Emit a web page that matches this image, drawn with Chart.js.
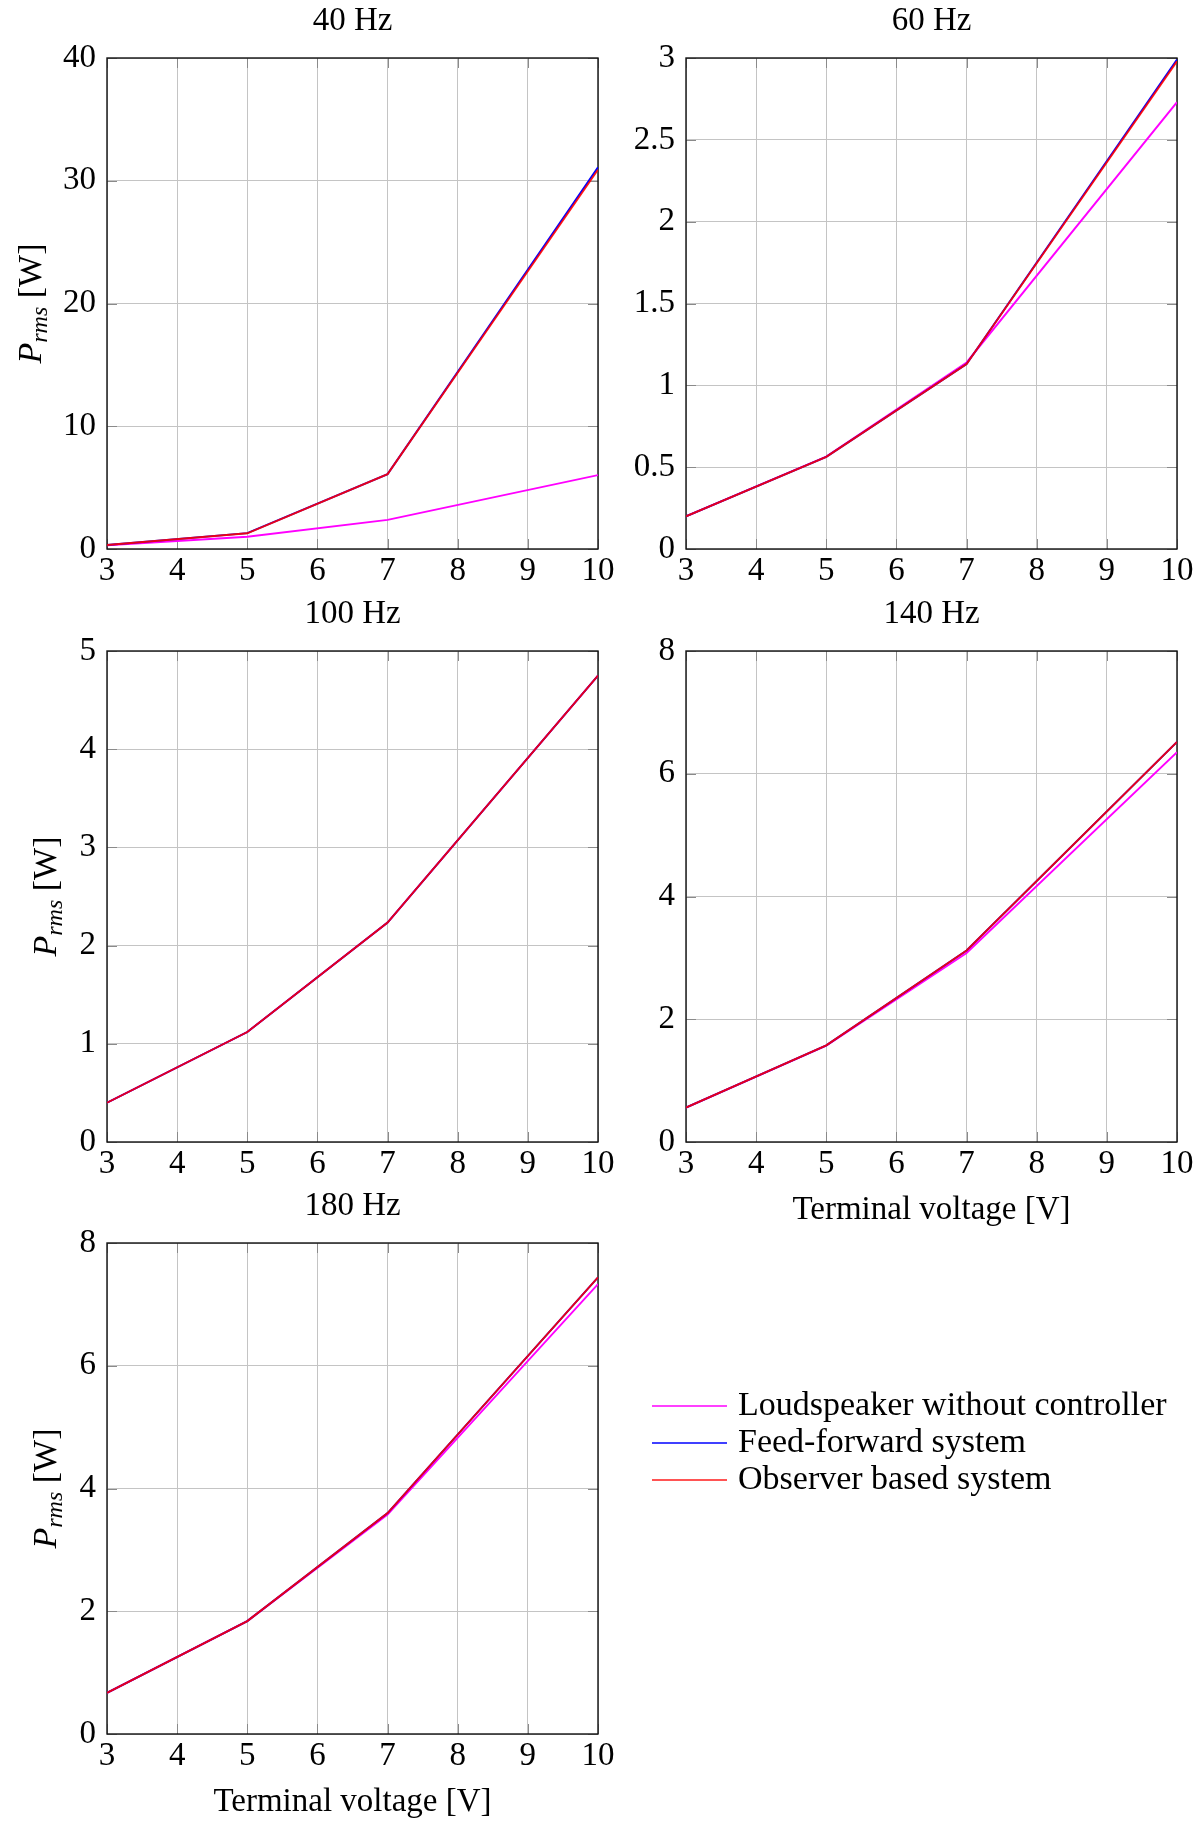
<!DOCTYPE html>
<html lang="en">
<head>
<meta charset="UTF-8">
<title>P_rms against terminal voltage</title>
<script src="https://cdn.jsdelivr.net/npm/chart.js"></script>
<style>
    html, body { margin: 0; padding: 0; background: #fff; overflow: hidden; }
    body { width: 1201px; height: 1821px; position: relative; }
    canvas { position: absolute; }
</style>
</head>
<body>
<canvas id="c40"  width="628"  height="593" style="left:0;top:0"></canvas>
<canvas id="c60"  width="628"  height="593" style="left:579px;top:0"></canvas>
<canvas id="c100" width="628"  height="593" style="left:0;top:593px"></canvas>
<canvas id="c140" width="628"  height="639" style="left:579px;top:593px"></canvas>
<canvas id="c180" width="1201" height="636" style="left:0;top:1185px"></canvas>

<script>
// terminal voltage [V] where the power was computed
const voltage = [3, 5, 7, 10];
const xTicks = [3, 4, 5, 6, 7, 8, 9, 10];
const seriesNames = ['Loudspeaker without controller', 'Feed-forward system', 'Observer based system'];

// P_rms [W]
const noCtrl40 = [0.31, 1.00, 2.37, 6.02];
const ff40     = [0.33, 1.29, 6.10, 31.1];
const obs40    = [0.33, 1.28, 6.10, 30.9];
const yTicks40 = [0, 10, 20, 30, 40];

const noCtrl60 = [0.20, 0.565, 1.14, 2.73];
const ff60     = [0.20, 0.563, 1.13, 2.99];
const obs60    = [0.20, 0.563, 1.13, 2.98];
const yTicks60 = [0, 0.5, 1, 1.5, 2, 2.5, 3];

const noCtrl100 = [0.40, 1.12, 2.235, 4.75];
const ff100     = [0.40, 1.12, 2.235, 4.75];
const obs100    = [0.40, 1.12, 2.235, 4.75];
const yTicks100 = [0, 1, 2, 3, 4, 5];

const noCtrl140 = [0.56, 1.57, 3.08, 6.35];
const ff140     = [0.56, 1.575, 3.12, 6.52];
const obs140    = [0.56, 1.575, 3.12, 6.52];
const yTicks140 = [0, 2, 4, 6, 8];

const noCtrl180 = [0.67, 1.84, 3.575, 7.33];
const ff180     = [0.67, 1.84, 3.60, 7.44];
const obs180    = [0.67, 1.84, 3.60, 7.44];
const yTicks180 = [0, 2, 4, 6, 8];

const FONT = '"Liberation Serif", "Times New Roman", serif';
const colors = ['#ff00ff', '#0000ff', 'rgba(255, 0, 0, 0.9)'];

Chart.defaults.font.family = FONT;
Chart.defaults.font.size = 33;
Chart.defaults.color = '#000';

// box round the plot + small inner tick marks like pgfplots
const framePlugin = {
    id: 'frame',
    beforeDatasetsDraw(chart) {
        const { ctx, chartArea: a, scales: { x, y } } = chart;
        ctx.save();
        ctx.strokeStyle = '#8a8a8a';
        ctx.lineWidth = 1;
        ctx.beginPath();
        x.ticks.forEach(t => {
            const px = Math.round(x.getPixelForValue(t.value)) + 0.5;
            ctx.moveTo(px, a.bottom); ctx.lineTo(px, a.bottom - 10);
            ctx.moveTo(px, a.top); ctx.lineTo(px, a.top + 10);
        });
        y.ticks.forEach(t => {
            const py = Math.round(y.getPixelForValue(t.value)) + 0.5;
            ctx.moveTo(a.left, py); ctx.lineTo(a.left + 10, py);
            ctx.moveTo(a.right, py); ctx.lineTo(a.right - 10, py);
        });
        ctx.stroke();
        ctx.strokeStyle = '#111';
        ctx.lineWidth = 1.4;
        ctx.strokeRect(a.left, a.top, a.width, a.height);
        ctx.restore();
    }
};

// rotated "P_rms [W]" with an italic subscript
const yTitlePlugin = {
    id: 'yTitle',
    afterDraw(chart, args, o) {
        const ctx = chart.ctx;
        const parts = [
            { t: 'P', font: 'italic 34px ' + FONT, dy: 0 },
            { t: 'rms', font: 'italic 24px ' + FONT, dy: 6 },
            { t: ' [W]', font: '34px ' + FONT, dy: 0 }
        ];
        let total = 0;
        parts.forEach(p => { ctx.font = p.font; p.w = ctx.measureText(p.t).width; total += p.w; });
        const a = chart.chartArea;
        ctx.save();
        ctx.translate(o.x, (a.top + a.bottom) / 2);
        ctx.rotate(-Math.PI / 2);
        ctx.fillStyle = '#000';
        ctx.textBaseline = 'alphabetic';
        let cx = -total / 2;
        parts.forEach(p => { ctx.font = p.font; ctx.fillText(p.t, cx, p.dy); cx += p.w; });
        ctx.restore();
    }
};

// legend drawn beside the last panel
const sideLegend = {
    id: 'sideLegend',
    afterDraw(chart, args, o) {
        const ctx = chart.ctx;
        ctx.save();
        ctx.font = '34px ' + FONT;
        ctx.textBaseline = 'middle';
        chart.data.datasets.forEach((ds, i) => {
            const yy = o.top + i * o.gap;
            ctx.strokeStyle = ds.borderColor;
            ctx.lineWidth = 1.6;
            ctx.beginPath();
            ctx.moveTo(o.x0, yy);
            ctx.lineTo(o.x1, yy);
            ctx.stroke();
            ctx.fillStyle = '#000';
            ctx.fillText(ds.label, o.textX, yy);
        });
        ctx.restore();
    }
};

function makePanel(id, title, series, yTicks, cfg) {
    const plugins = [framePlugin];
    if (cfg.yTitleX) plugins.push(yTitlePlugin);
    if (cfg.legend) plugins.push(sideLegend);

    return new Chart(document.getElementById(id), {
        type: 'line',
        data: {
            datasets: seriesNames.map((name, i) => ({
                label: name,
                data: voltage.map((v, k) => ({ x: v, y: series[i][k] })),
                borderColor: colors[i],
                borderWidth: 1.9,
                pointRadius: 0,
                fill: false,
                tension: 0,
                order: 3 - i
            }))
        },
        options: {
            responsive: false,
            animation: false,
            devicePixelRatio: 1,
            events: [],
            layout: { padding: { top: 0, left: 0, bottom: 0, right: cfg.padRight || 30 } },
            scales: {
                x: {
                    type: 'linear',
                    min: 3,
                    max: 10,
                    afterBuildTicks: s => { s.ticks = xTicks.map(v => ({ value: v })); },
                    afterFit: s => { s.height = cfg.xh; },
                    grid: { color: '#c4c4c4', lineWidth: 1, drawTicks: false },
                    border: { display: false },
                    ticks: { padding: 6, maxRotation: 0, autoSkip: false, font: { size: 33, lineHeight: 1 }, callback: v => String(v) },
                    title: cfg.xTitle
                        ? { display: true, text: 'Terminal voltage [V]', font: { size: 33, lineHeight: 1 }, padding: { top: 0, bottom: cfg.xTitlePad } }
                        : { display: false }
                },
                y: {
                    min: 0,
                    max: yTicks[yTicks.length - 1],
                    afterBuildTicks: s => { s.ticks = yTicks.map(v => ({ value: v })); },
                    afterFit: s => { s.width = 107; },
                    grid: { color: '#c4c4c4', lineWidth: 1, drawTicks: false },
                    border: { display: false },
                    ticks: { padding: 11, font: { size: 33, lineHeight: 1 }, callback: v => String(v) }
                }
            },
            plugins: {
                legend: { display: false },
                tooltip: { enabled: false },
                title: {
                    display: true,
                    text: title,
                    fullSize: false,
                    color: '#000',
                    font: { size: 33, weight: 'normal', lineHeight: 1.2 },
                    padding: { top: 1.2, bottom: 17.2 }
                },
                yTitle: { x: cfg.yTitleX },
                sideLegend: { top: 221, gap: 37, x0: 652, x1: 727, textX: 738 }
            }
        },
        plugins: plugins
    });
}

makePanel('c40',  '40 Hz',  [noCtrl40,  ff40,  obs40],  yTicks40,  { xh: 44, yTitleX: 41 });
makePanel('c60',  '60 Hz',  [noCtrl60,  ff60,  obs60],  yTicks60,  { xh: 44 });
makePanel('c100', '100 Hz', [noCtrl100, ff100, obs100], yTicks100, { xh: 44, yTitleX: 56 });
makePanel('c140', '140 Hz', [noCtrl140, ff140, obs140], yTicks140, { xh: 90, xTitle: true, xTitlePad: 5 });
makePanel('c180', '180 Hz', [noCtrl180, ff180, obs180], yTicks180, { xh: 87, xTitle: true, xTitlePad: 2, yTitleX: 56, legend: true, padRight: 603 });
</script>
</body>
</html>
